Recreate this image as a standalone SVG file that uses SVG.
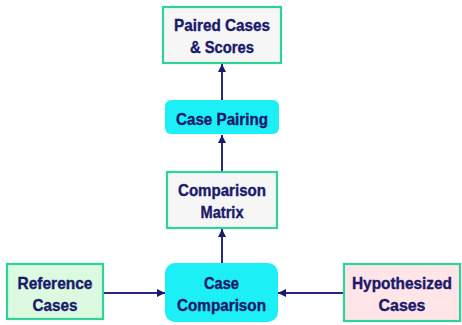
<svg xmlns="http://www.w3.org/2000/svg" width="462" height="325" viewBox="0 0 462 325">
  <style>
    .lbl { font-family: "Liberation Sans", Arial, sans-serif; font-weight: bold; font-size: 17px; fill: #1a1a6c; stroke: #1a1a6c; stroke-width: 0.4; text-anchor: middle; }
    .box { stroke: #2ed39a; stroke-width: 2.2; }
    .plain { fill: #f6f6f6; }
    .ref { fill: #dcfae0; }
    .hyp { fill: #ffe5e7; }
    .proc { fill: #1cf0f6; stroke: none; }
    .edge { stroke: #28287e; stroke-width: 2; fill: none; marker-end: url(#head); }
  </style>
  <defs>
    <marker id="head" viewBox="0 0 10 10" refX="10" refY="5" markerWidth="4.5" markerHeight="4" orient="auto" markerUnits="strokeWidth">
      <path d="M0,0 L10,5 L0,10 z" fill="#1a1a6c"/>
    </marker>
  </defs>
  <rect width="462" height="325" fill="#ffffff"/>

  <g id="connectors">
    <line class="edge" x1="222" y1="100" x2="222" y2="64"/>
    <line class="edge" x1="222" y1="172" x2="222" y2="135"/>
    <line class="edge" x1="222" y1="263" x2="222" y2="229"/>
    <line class="edge" x1="103" y1="293" x2="165" y2="293"/>
    <line class="edge" x1="344" y1="293" x2="278" y2="293"/>
  </g>

  <g id="paired-cases-scores">
    <rect class="box plain" x="163" y="7" width="118" height="56"/>
    <text class="lbl" x="222" y="30.5" textLength="96" lengthAdjust="spacingAndGlyphs">Paired Cases</text>
    <text class="lbl" x="222" y="53" textLength="64" lengthAdjust="spacingAndGlyphs">&amp; Scores</text>
  </g>

  <g id="case-pairing">
    <rect class="proc" x="165" y="100" width="114" height="34" rx="6"/>
    <text class="lbl" x="222" y="125" textLength="92" lengthAdjust="spacingAndGlyphs">Case Pairing</text>
  </g>

  <g id="comparison-matrix">
    <rect class="box plain" x="167" y="172" width="110" height="56"/>
    <text class="lbl" x="222" y="196" textLength="88" lengthAdjust="spacingAndGlyphs">Comparison</text>
    <text class="lbl" x="222" y="217.5" textLength="43" lengthAdjust="spacingAndGlyphs">Matrix</text>
  </g>

  <g id="reference-cases">
    <rect class="box ref" x="7" y="264" width="96" height="55"/>
    <text class="lbl" x="55" y="288.5" textLength="75" lengthAdjust="spacingAndGlyphs">Reference</text>
    <text class="lbl" x="55" y="311" textLength="45" lengthAdjust="spacingAndGlyphs">Cases</text>
  </g>

  <g id="case-comparison">
    <rect class="proc" x="165" y="263" width="113" height="59" rx="10"/>
    <text class="lbl" x="221.5" y="288.5" textLength="35" lengthAdjust="spacingAndGlyphs">Case</text>
    <text class="lbl" x="221.5" y="311" textLength="89" lengthAdjust="spacingAndGlyphs">Comparison</text>
  </g>

  <g id="hypothesized-cases">
    <rect class="box hyp" x="344" y="264" width="116" height="57"/>
    <text class="lbl" x="402" y="288.5" textLength="100" lengthAdjust="spacingAndGlyphs">Hypothesized</text>
    <text class="lbl" x="402" y="311" textLength="47" lengthAdjust="spacingAndGlyphs">Cases</text>
  </g>
</svg>
